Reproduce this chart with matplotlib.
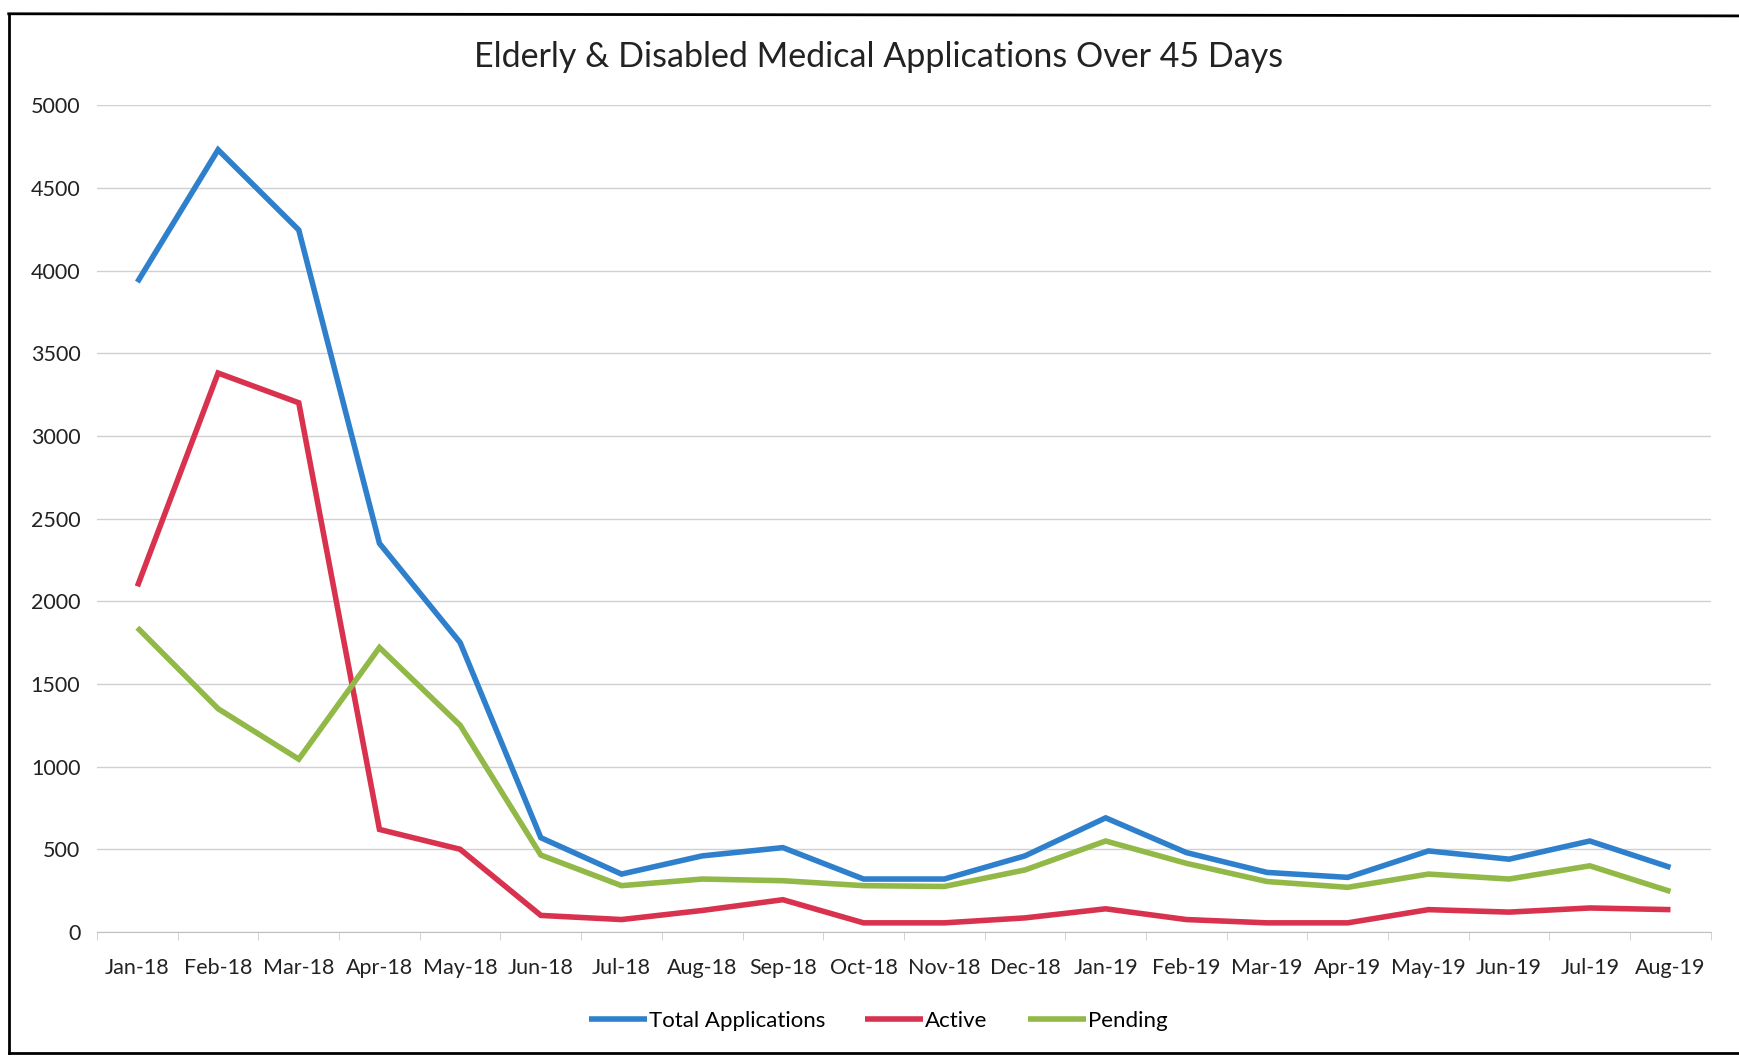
import matplotlib
matplotlib.use("Agg")
from matplotlib import pyplot as plt
from matplotlib.lines import Line2D
from matplotlib.ticker import MultipleLocator

MONTHS = ["Jan-18", "Feb-18", "Mar-18", "Apr-18", "May-18", "Jun-18", "Jul-18",
          "Aug-18", "Sep-18", "Oct-18", "Nov-18", "Dec-18", "Jan-19", "Feb-19",
          "Mar-19", "Apr-19", "May-19", "Jun-19", "Jul-19", "Aug-19"]

TOTAL = [3930, 4730, 4245, 2350, 1750, 570, 350, 460, 510, 320, 320, 460,
         690, 480, 360, 330, 490, 440, 550, 390]
ACTIVE = [2090, 3380, 3200, 620, 500, 100, 75, 130, 195, 55, 55, 85,
          140, 75, 55, 55, 135, 120, 145, 135]
PENDING = [1840, 1350, 1045, 1720, 1250, 465, 280, 320, 310, 280, 275, 375,
           550, 415, 305, 270, 350, 320, 400, 245]

SERIES = [("Total Applications", TOTAL, "#2f80cc"),
          ("Active", ACTIVE, "#d8324f"),
          ("Pending", PENDING, "#92b848")]

plt.rcParams['font.family'] = ['Lato', 'DejaVu Sans']

fig = plt.figure(figsize=(17.39, 10.6), dpi=100)
ax = fig.add_axes([0.0558, 0.1208, 0.928, 0.780])

x = list(range(len(MONTHS)))
for name, values, color in SERIES:
    ax.plot(x, values, color=color, linewidth=4, label=name,
            solid_capstyle='butt', solid_joinstyle='miter')

ax.set_xlim(-0.5, len(MONTHS) - 0.5)
ax.set_ylim(0, 5000)
ax.yaxis.set_major_locator(MultipleLocator(500))
ax.grid(axis='y', color='#d0d0d0', linewidth=1)
ax.set_axisbelow(True)

ax.set_xticks(x)
ax.set_xticklabels(MONTHS)
ax.set_xticks([i - 0.5 for i in range(len(MONTHS) + 1)], minor=True)
ax.tick_params(axis='x', which='major', length=0, pad=19, labelsize=15.5, colors='#222222')
ax.tick_params(axis='x', which='minor', length=6, color='#cccccc')
ax.tick_params(axis='y', length=0, pad=12, labelsize=15.5, colors='#222222')

for side in ('top', 'right', 'left'):
    ax.spines[side].set_visible(False)
ax.spines['bottom'].set_color('#c0c0c0')

fig.text(0.505, 0.946, "Elderly & Disabled Medical Applications Over 45 Days",
         ha='center', va='center', fontsize=24.5, color='#222222')

fig.legend(loc='center', bbox_to_anchor=(0.505, 0.037), ncol=3, frameon=False,
           fontsize=16, handlelength=2.6, handletextpad=0.1, columnspacing=1.8)

# scanned page frame
for xs, ys in (([0.005, 0.005], [0.007, 0.987]),
               ([0.005, 1.0], [0.987, 0.985]),
               ([0.005, 1.0], [0.007, 0.007])):
    fig.add_artist(Line2D(xs, ys, color='black', linewidth=2, transform=fig.transFigure))

fig.savefig("out.png", dpi=100, facecolor='white')
